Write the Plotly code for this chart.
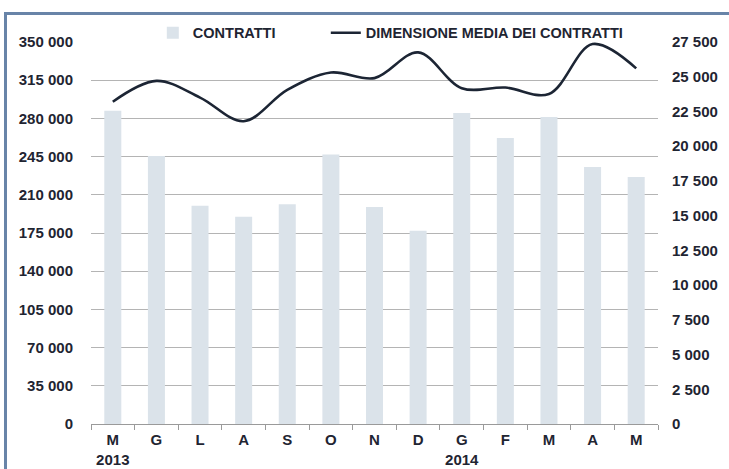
import plotly.graph_objects as go

months = ["M", "G", "L", "A", "S", "O", "N", "D", "G", "F", "M", "A", "M"]
month_labels = ["M<br>2013", "G", "L", "A", "S", "O", "N", "D", "G<br>2014", "F", "M", "A", "M"]
contratti = [287000, 245500, 200000, 190000, 201300, 247000, 198800, 177000, 285000, 262000, 281300, 235500, 226300]
dimensione_media = [23200, 24700, 23500, 21800, 24050, 25300, 24900, 26750, 24170, 24220, 23760, 27350, 25600]

left_ticks = [0, 35000, 70000, 105000, 140000, 175000, 210000, 245000, 280000, 315000, 350000]
right_ticks = [0, 2500, 5000, 7500, 10000, 12500, 15000, 17500, 20000, 22500, 25000, 27500]

def fmt(v):
    return f"{v:,}".replace(",", " ")

x = list(range(len(months)))
TXT = "#1f2532"
FONT = "Liberation Sans"

fig = go.Figure()
fig.add_trace(go.Bar(
    x=x, y=contratti, name="CONTRATTI",
    marker=dict(color="#dbe3ea", line=dict(width=0)),
    yaxis="y", legendwidth=128,
))
fig.add_trace(go.Scatter(
    x=x, y=dimensione_media, name="DIMENSIONE MEDIA DEI CONTRATTI",
    mode="lines", line=dict(color="#1c2534", width=2.6, shape="spline", smoothing=1.0),
    yaxis="y2", legendwidth=280,
))

fig.update_layout(
    width=729, height=469,
    margin=dict(l=91, r=71, t=42, b=45, autoexpand=False),
    paper_bgcolor="white", plot_bgcolor="white",
    font=dict(family=FONT, size=14, color=TXT),
    bargap=0.61,
    showlegend=True,
    legend=dict(
        orientation="h", x=0.109, xanchor="left", y=1.024, yanchor="middle",
        bgcolor="rgba(0,0,0,0)",
        font=dict(family=FONT, size=14.5, color=TXT, weight="bold"),
        traceorder="normal",
    ),
    xaxis=dict(
        range=[-0.5, len(months) - 0.5],
        tickmode="array", tickvals=x, ticktext=month_labels,
        ticks="outside", ticklen=0, tickcolor="rgba(0,0,0,0)",
        minor=dict(tick0=-0.5, dtick=1, ticks="outside", ticklen=5, tickcolor="#9a9a9a", tickwidth=1, showgrid=False),
        showline=True, linecolor="#9a9a9a", linewidth=1,
        showgrid=False, zeroline=False, automargin=False,
        ticklabelstandoff=2,
        tickfont=dict(family=FONT, size=15, color=TXT, weight="bold"),
    ),
    yaxis=dict(
        range=[0, 350000], tickmode="array", tickvals=left_ticks,
        ticktext=[fmt(v) for v in left_ticks],
        showgrid=True, gridcolor="#b4b4b4", gridwidth=1,
        zeroline=False, showline=False, ticks="", automargin=False,
        ticklabelstandoff=17,
        tickfont=dict(family=FONT, size=15, color=TXT, weight="bold"),
    ),
    yaxis2=dict(
        range=[0, 27500], overlaying="y", side="right",
        tickmode="array", tickvals=right_ticks,
        ticktext=[fmt(v) for v in right_ticks],
        showgrid=False, zeroline=False, showline=False, ticks="", automargin=False,
        ticklabelstandoff=13,
        tickfont=dict(family=FONT, size=15, color=TXT, weight="bold"),
    ),
    shapes=[dict(
        type="rect", xref="paper", yref="paper",
        x0=-0.1508, x1=1.3, y0=-0.4, y1=1.0746,
        line=dict(color="#6884a8", width=3), fillcolor="rgba(0,0,0,0)", layer="below",
    )],
)

fig.write_html("out.html", config={"displayModeBar": False},
               post_script="document.body.style.margin='0';document.body.style.padding='0';")
